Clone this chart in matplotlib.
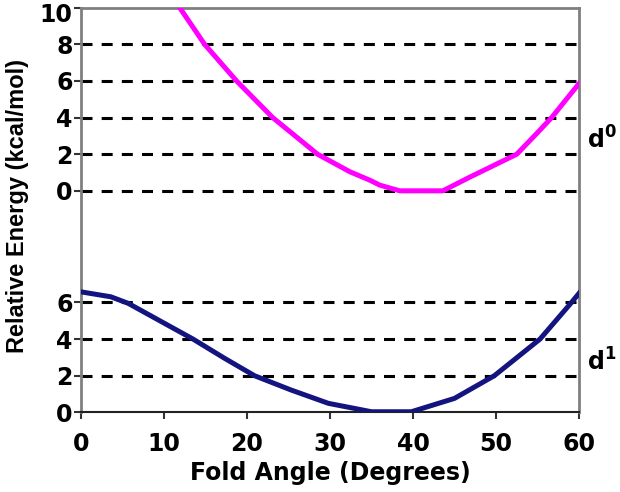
""" Fold angle energy profiles for d0 and d1 (broken y-axis in one panel) """
import numpy as np
import matplotlib

matplotlib.use("Agg")
import matplotlib.pyplot as plt
from matplotlib.transforms import ScaledTranslation

plt.rcParams["font.family"] = ["DejaVu Sans"]
plt.rcParams["font.weight"] = "bold"
plt.rcParams["mathtext.fontset"] = "custom"
plt.rcParams["mathtext.rm"] = "DejaVu Sans:bold"

# d0 curve (upper panel)
d0_angle = [10, 11.9, 14.9, 18.75, 23.1, 28.5, 32.4, 34.8, 36.0, 38.4, 43.6, 46.9, 52.5, 54.9, 56.7, 60]
d0_energy = [11.3, 10.0, 8.0, 6.0, 4.0, 2.0, 1.04, 0.58, 0.31, 0.0, 0.0, 0.76, 2.0, 3.13, 4.0, 5.86]

# d1 curve (lower panel)
d1_angle = [0, 3.6, 5.7, 9.5, 13.5, 17.3, 20.9, 25.3, 29.8, 35.0, 39.8, 45.0, 49.8, 55.3, 59.0, 60]
d1_energy = [6.58, 6.31, 5.95, 5.0, 4.0, 2.95, 2.0, 1.22, 0.49, 0.03, 0.03, 0.76, 2.0, 4.0, 5.95, 6.5]

x_ticks = [0, 10, 20, 30, 40, 50, 60]
d0_ticks = [0, 2, 4, 6, 8, 10]
d1_ticks = [0, 2, 4, 6]
d0_grid = [0, 2, 4, 6, 8]
d1_grid = [2, 4, 6]

OFFSET = 12.1  # where d0's zero sits on the shared axis
TOP = OFFSET + 10

fig = plt.figure(figsize=(6.2, 4.92), dpi=100)
ax = fig.add_axes([0.1306, 0.162, 0.8033, 0.8222])

dash = (0, (3.6, 3.0))
for g in d0_grid:
    ax.axhline(OFFSET + g, color="black", lw=2.2, ls=dash, zorder=1)
for g in d1_grid:
    ax.axhline(g, color="black", lw=2.2, ls=dash, zorder=1)

ax.plot(d0_angle, np.array(d0_energy) + OFFSET, color="#ff00ff", lw=3.6,
        solid_joinstyle="round", zorder=3)
ax.plot(d1_angle, d1_energy, color="#141480", lw=3.6,
        solid_joinstyle="round", zorder=3)

ax.set_xlim(0, 60)
ax.set_ylim(0, TOP)

ax.set_xticks(x_ticks)
ax.set_xticklabels([str(t) for t in x_ticks])
yt = list(d1_ticks) + [OFFSET + t for t in d0_ticks]
ax.set_yticks(yt)
ax.set_yticklabels([str(t) for t in d1_ticks] + [str(t) for t in d0_ticks])

ax.tick_params(axis="both", direction="out", width=1.5,
               labelsize=17, color="#333333")
ax.tick_params(axis="x", length=5, pad=9)
ax.tick_params(axis="y", length=5, pad=1)

for lbl in ax.get_yticklabels():
    lbl.set_va("center_baseline")
# the "10" sits a little lower than its tick in the original, keeps it inside the figure
top_lbl = ax.yaxis.get_major_ticks()[-1].label1
top_lbl.set_transform(top_lbl.get_transform() + ScaledTranslation(0, -0.05, fig.dpi_scale_trans))

for side in ["left", "right", "top"]:
    ax.spines[side].set_color("#808080")
    ax.spines[side].set_linewidth(2)
ax.spines["bottom"].set_color("#222222")
ax.spines["bottom"].set_linewidth(1.5)

ax.set_xlabel("Fold Angle (Degrees)", fontsize=17, fontweight="bold", labelpad=4)
ax.set_ylabel("Relative Energy (kcal/mol)", fontsize=17, fontweight="bold",
              labelpad=8, family=["Liberation Sans", "DejaVu Sans"])
ax.yaxis.label.set_y(0.511)

ax.text(1.046, OFFSET + 2.75, r"$\mathregular{d^0}$", transform=ax.get_yaxis_transform(),
        fontsize=17, ha="center", va="center")
ax.text(1.046, 2.75, r"$\mathregular{d^1}$", transform=ax.get_yaxis_transform(),
        fontsize=17, ha="center", va="center")

fig.savefig("out.png", dpi=100)
